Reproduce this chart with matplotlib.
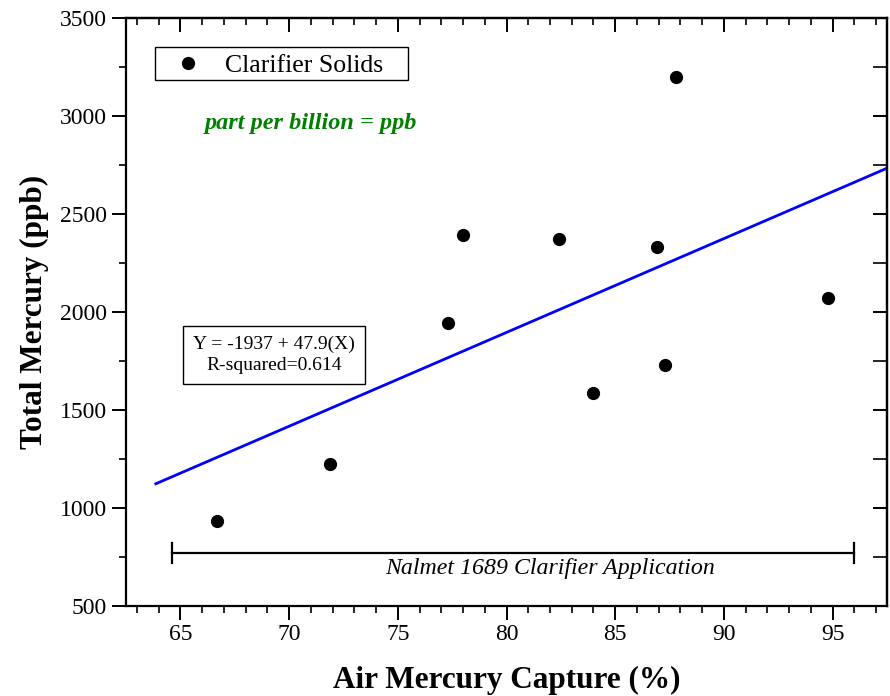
import matplotlib
matplotlib.use("Agg")
import matplotlib.pyplot as plt
import numpy as np
from matplotlib.ticker import MultipleLocator
from matplotlib.patches import Rectangle

plt.rcParams['font.family'] = ['Liberation Serif', 'DejaVu Serif']

# Data
air_capture = [66.7, 71.9, 77.3, 78.0, 82.4, 84.0, 86.9, 87.3, 87.8, 94.8]
total_mercury = [930, 1223, 1943, 2392, 2372, 1584, 2329, 1729, 3197, 2069]
fit_intercept = -1937
fit_slope = 47.9
fit_x = [63.87, 97.5]
range_x = [64.63, 96.0]
range_y = 770

fig = plt.figure(figsize=(8.9, 6.96), dpi=100)
ax = fig.add_axes([126/890, 1-605.7/696, (887-126)/890, (605.7-18)/696])

ax.set_xlim(62.5, 97.5)
ax.set_ylim(500, 3500)

fx = np.array(fit_x)
ax.plot(fx, fit_intercept + fit_slope*fx, color='#0000ff', lw=2.0, zorder=2)
ax.plot(air_capture, total_mercury, 'o', color='black', ms=8.5, zorder=3,
        label='Clarifier Solids')

# range bar
ax.plot(range_x, [range_y, range_y], color='black', lw=1.6)
for xv in range_x:
    ax.plot([xv, xv], [range_y-50, range_y+50], color='black', lw=1.6)
ax.text(82.0, 692, 'Nalmet 1689 Clarifier Application', style='italic',
        fontsize=17.2, ha='center', va='center')

ax.text(0.104, 0.821, 'part per billion = ppb', transform=ax.transAxes,
        fontsize=17.5, color='#008000', style='italic', fontweight='bold',
        ha='left', va='center')

ax.text(0.1945, 0.4266, 'Y = -1937 + 47.9(X)\nR-squared=0.614', transform=ax.transAxes,
        fontsize=14, ha='center', va='center', linespacing=1.3,
        bbox=dict(boxstyle='square,pad=0.5', fc='white', ec='black', lw=1.0))

# legend (frameless) with a drawn box
ax.add_patch(Rectangle((0.0381, 0.8945), 0.3325, 0.05615, transform=ax.transAxes,
                       fc='white', ec='black', lw=1.0, zorder=4))
leg = ax.legend(loc='center left', bbox_to_anchor=(0.0646, 0.9185), fontsize=18.5,
                frameon=False, handlelength=1.0, handletextpad=0.94,
                borderpad=0.0, borderaxespad=0.0, markerscale=1.0)
leg.set_zorder(5)

ax.xaxis.set_major_locator(MultipleLocator(5))
ax.xaxis.set_minor_locator(MultipleLocator(1))
ax.yaxis.set_major_locator(MultipleLocator(500))
ax.yaxis.set_minor_locator(MultipleLocator(250))

for s in ax.spines.values():
    s.set_linewidth(1.6)

ax.tick_params(which='major', direction='out', length=10, width=1.4, labelsize=17,
               top=False, right=False)
ax.tick_params(which='minor', direction='out', length=5, width=1.2, top=False, right=False)

secx = ax.secondary_xaxis('top')
secx.xaxis.set_major_locator(MultipleLocator(5))
secx.xaxis.set_minor_locator(MultipleLocator(1))
secx.tick_params(which='major', direction='in', length=10, width=1.4, labeltop=False)
secx.tick_params(which='minor', direction='in', length=5, width=1.2)
secx.spines['top'].set_linewidth(1.6)

secy = ax.secondary_yaxis('right')
secy.yaxis.set_major_locator(MultipleLocator(500))
secy.yaxis.set_minor_locator(MultipleLocator(250))
secy.tick_params(which='major', direction='in', length=10, width=1.4, labelright=False)
secy.tick_params(which='minor', direction='in', length=10, width=1.2)
secy.spines['right'].set_linewidth(1.6)

ax.set_xlabel('Air Mercury Capture (%)', fontsize=22.5, fontweight='bold', labelpad=15)
ax.set_ylabel('Total Mercury (ppb)', fontsize=22.5, fontweight='bold', labelpad=8)

fig.savefig('out.png', dpi=100)
